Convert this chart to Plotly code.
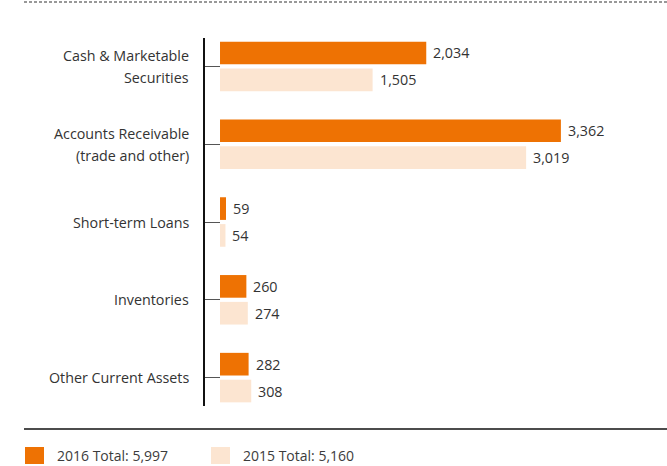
import plotly.graph_objects as go

# Current assets by category (in millions)
categories = [
    "Cash & Marketable<br>Securities",
    "Accounts Receivable<br>(trade and other)",
    "Short-term Loans",
    "Inventories",
    "Other Current Assets",
]
values_2016 = [2034, 3362, 59, 260, 282]
values_2015 = [1505, 3019, 54, 274, 308]
series_names = ["2016", "2015"]

ORANGE = "#EE7203"
PEACH = "#FCE5D1"
TEXT = "#333333"
FONT = "Open Sans"

W, H = 667, 466
ML, MR, MT, MB = 205, 27, 38, 60
X_MIN, X_MAX = -148, 4142

idx = list(range(len(categories)))

fig = go.Figure()
fig.add_trace(go.Bar(y=idx, x=values_2016, orientation="h", name=series_names[0],
                     marker=dict(color=ORANGE, line=dict(width=0)), hoverinfo="x"))
fig.add_trace(go.Bar(y=idx, x=values_2015, orientation="h", name=series_names[1],
                     marker=dict(color=PEACH, line=dict(width=0)), hoverinfo="x"))

annotations = []
# Category labels, one annotation per line for wider line spacing
for i, cat in enumerate(categories):
    lines = cat.split("<br>")
    n = len(lines)
    for k, line in enumerate(lines):
        shift = (n - 1) / 2 * 22 - k * 22
        annotations.append(dict(
            x=X_MIN, xref="x", y=i, yref="y", text=line, showarrow=False,
            xanchor="right", yanchor="middle", xshift=-14, yshift=shift,
            font=dict(family=FONT, size=14.3, color=TEXT)))

# Value labels beside each bar
offset = 0.1725
for vals, dy in ((values_2016, -offset), (values_2015, offset)):
    for i, v in enumerate(vals):
        annotations.append(dict(
            x=v, xref="x", y=i + dy, yref="y", text=f"{v:,}", showarrow=False,
            xanchor="left", yanchor="middle", xshift=5,
            font=dict(family=FONT, size=14.3, color=TEXT)))

# Legend built from series totals
shapes = []
legend_items = [(ORANGE, f"{series_names[0]} Total: {sum(values_2016):,}", 25),
                (PEACH, f"{series_names[1]} Total: {sum(values_2015):,}", 211)]
for color, label, x0 in legend_items:
    shapes.append(dict(type="rect", xref="paper", yref="paper",
                       x0=(x0 - ML) / (W - ML - MR), x1=(x0 + 19 - ML) / (W - ML - MR),
                       y0=(H - MB - 464) / (H - MT - MB), y1=(H - MB - 447) / (H - MT - MB),
                       fillcolor=color, line=dict(width=0)))
    annotations.append(dict(
        x=(x0 + 30 - ML) / (W - ML - MR), xref="paper",
        y=(H - MB - 455.5) / (H - MT - MB), yref="paper",
        text=label, showarrow=False, xanchor="left", yanchor="middle",
        font=dict(family=FONT, size=14, color="#3c3c3c")))

# Rule above the legend
shapes.append(dict(type="line", xref="paper", yref="paper",
                   x0=(24 - ML) / (W - ML - MR), x1=(W - ML) / (W - ML - MR),
                   y0=(H - MB - 429) / (H - MT - MB), y1=(H - MB - 429) / (H - MT - MB),
                   line=dict(color="#111", width=1.5)))
# Dotted rule at the top
shapes.append(dict(type="line", xref="paper", yref="paper",
                   x0=(24 - ML) / (W - ML - MR), x1=(W - ML) / (W - ML - MR),
                   y0=(H - MB - 2) / (H - MT - MB), y1=(H - MB - 2) / (H - MT - MB),
                   line=dict(color="#777", width=1.5, dash="3px,2px")))

fig.update_layout(
    width=W, height=H,
    margin=dict(l=ML, r=MR, t=MT, b=MB, pad=0),
    paper_bgcolor="white", plot_bgcolor="white",
    barmode="group", bargap=0.31, bargroupgap=0.156,
    showlegend=False,
    annotations=annotations, shapes=shapes,
    xaxis=dict(range=[X_MIN, X_MAX], visible=False, fixedrange=True),
    yaxis=dict(range=[4.365, -0.365], tickvals=idx, ticktext=[""] * len(idx),
               ticks="inside", ticklen=15, tickwidth=1.2, tickcolor="#555",
               showline=True, linecolor="#111", linewidth=1.5,
               showgrid=False, zeroline=False, fixedrange=True),
)

fig.write_html("out.html")
